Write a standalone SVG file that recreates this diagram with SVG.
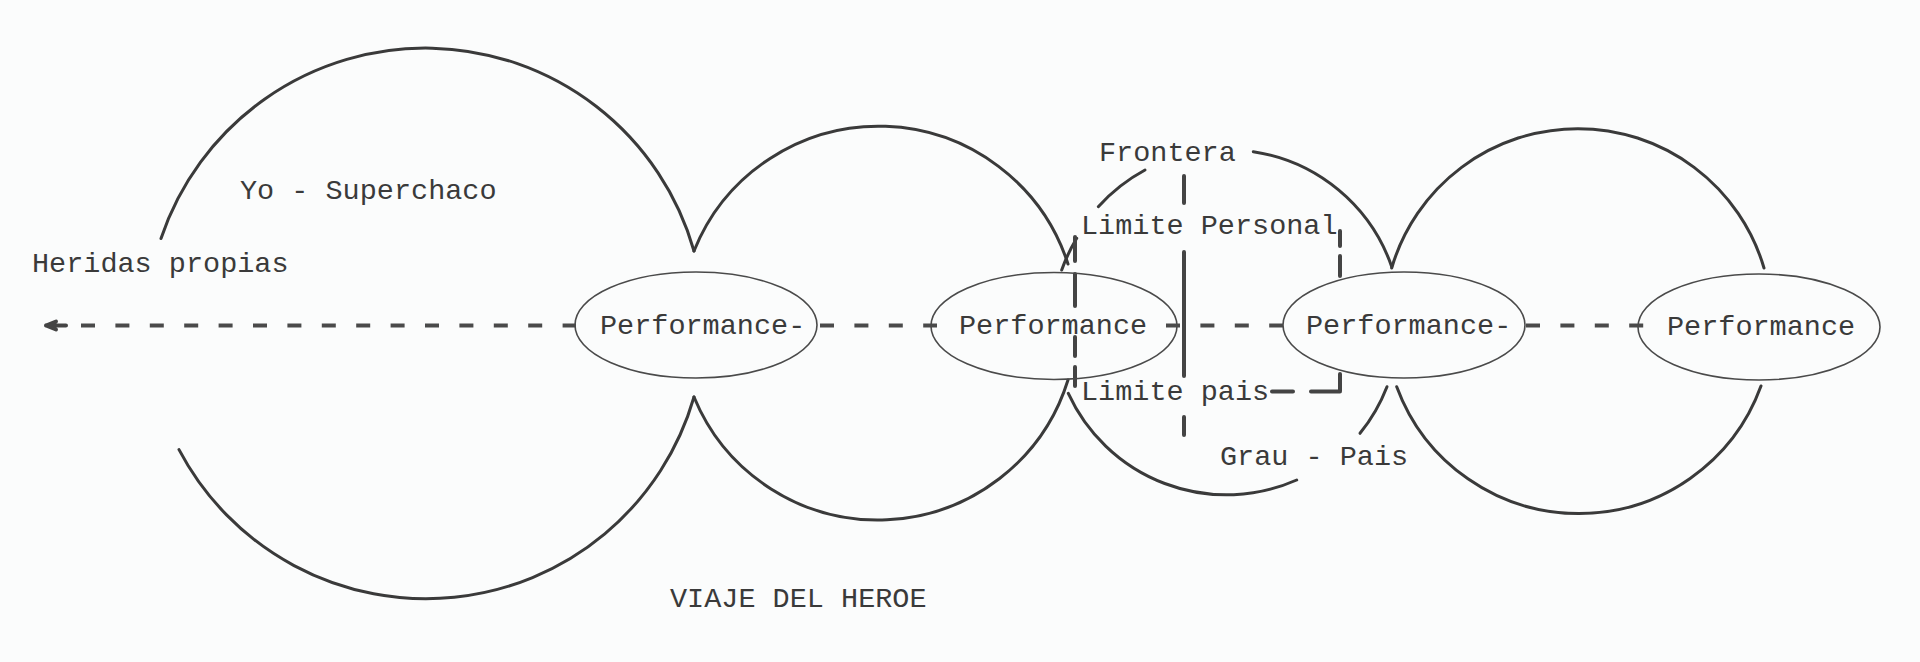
<svg xmlns="http://www.w3.org/2000/svg" width="1920" height="662" viewBox="0 0 1920 662">
<style>
.bg{fill:#fbfcfc}
.arc{fill:none;stroke:#3a3a3a;stroke-width:3;stroke-linecap:round}
.ell{fill:none;stroke:#4a4a4a;stroke-width:1.6}
.dash{fill:none;stroke:#4a4a4a;stroke-width:4;stroke-dasharray:14 20.4;stroke-linecap:butt}
.box{fill:none;stroke:#444;stroke-width:4;stroke-linecap:round}
.t{font-family:"Liberation Mono","DejaVu Sans Mono",monospace;font-size:28.5px;fill:#3a3a3a}
</style>
<rect class="bg" x="0" y="0" width="1920" height="662"/>

<g id="circles">
  <path class="arc" d="M161,238.5 A279,279 0 0 1 694,251"/>
  <path class="arc" d="M179,449.6 A279,279 0 0 0 694,397"/>
  <path class="arc" d="M694,251 A199,199 0 0 1 1068,264"/>
  <path class="arc" d="M694,397 A199,199 0 0 0 1068,380"/>
  <path class="arc" d="M1061.7,270 A174,174 0 0 1 1076.7,238.3"/>
  <path class="arc" d="M1098.3,206.7 A174,174 0 0 1 1145,170"/>
  <path class="arc" d="M1253.3,151.7 A174,174 0 0 1 1391.7,266.7"/>
  <path class="arc" d="M1068.3,393.3 A174,174 0 0 0 1296.7,480"/>
  <path class="arc" d="M1360,433.3 A174,174 0 0 0 1387,386.7"/>
  <path class="arc" d="M1391.7,268 A194,194 0 0 1 1764,268"/>
  <path class="arc" d="M1396.7,386.7 A194,194 0 0 0 1761,386"/>
</g>

<g id="connectors">
  <path class="box" d="M46,325.5 L66,325.5 M46,325.5 L56,321.5 M46,325.5 L56,329.5"/>
  <line class="dash" x1="81" y1="325.5" x2="576" y2="325.5"/>
  <line class="dash" x1="820" y1="325.5" x2="937" y2="325.5"/>
  <line class="dash" x1="1166" y1="325.5" x2="1283" y2="325.5"/>
  <line class="dash" x1="1526" y1="325.5" x2="1644" y2="325.5"/>
</g>

<g id="boundaries">
  <path class="box" d="M1075,237 V261 M1075,274 V306 M1075,337 V356 M1075,367 V386"/>
  <path class="box" d="M1184,176 V203 M1184,252 V376 M1184,417 V435"/>
  <path class="box" d="M1340,231 V246 M1340,256 V276 M1340,374 V391 M1340,391.5 H1311 M1293,391.5 H1272"/>
</g>

<g id="node-perf1">
  <ellipse class="ell" cx="696" cy="325" rx="121" ry="53"/>
  <text class="t" x="600" y="334">Performance-</text>
</g>
<g id="node-perf2">
  <ellipse class="ell" cx="1054" cy="326" rx="123" ry="53.5"/>
  <text class="t" x="959" y="334">Performance</text>
</g>
<g id="node-perf3">
  <ellipse class="ell" cx="1404" cy="325" rx="121" ry="53"/>
  <text class="t" x="1306" y="334">Performance-</text>
</g>
<g id="node-perf4">
  <ellipse class="ell" cx="1759" cy="327" rx="121" ry="53"/>
  <text class="t" x="1667" y="335">Performance</text>
</g>

<g id="labels">
  <text class="t" x="240" y="199">Yo - Superchaco</text>
  <text class="t" x="32" y="272">Heridas propias</text>
  <text class="t" x="1099" y="161">Frontera</text>
  <text class="t" x="1081" y="234">Limite Personal</text>
  <text class="t" x="1081" y="400">Limite pais</text>
  <text class="t" x="1220" y="465">Grau - Pais</text>
  <text class="t" x="670" y="607">VIAJE DEL HEROE</text>
</g>
</svg>
